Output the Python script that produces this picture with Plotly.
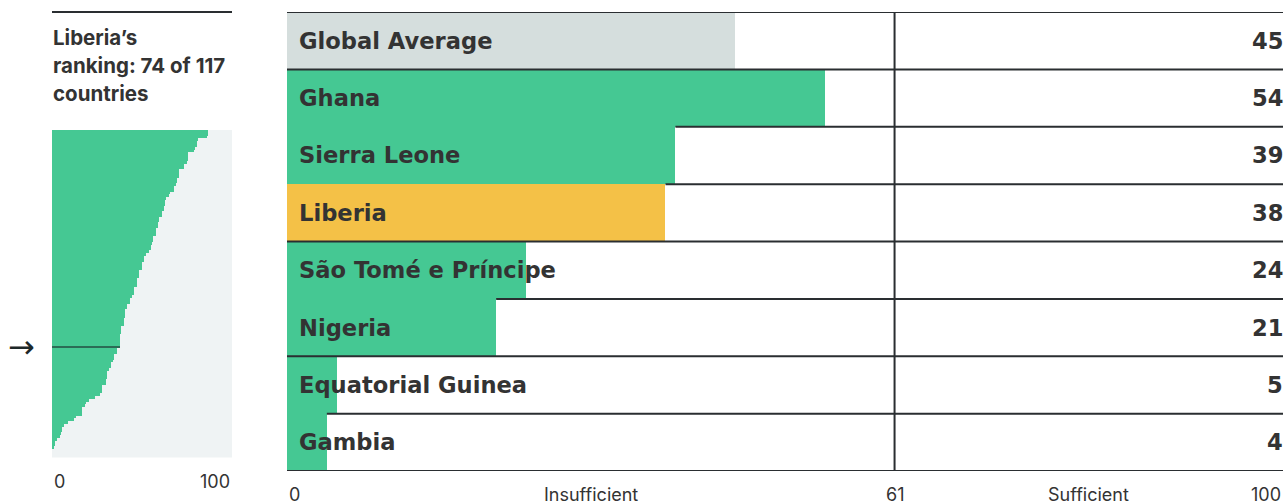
import plotly.graph_objects as go

W, H = 1286, 504

# ---------------- data ----------------
countries = ["Global Average", "Ghana", "Sierra Leone", "Liberia",
             "São Tomé e Príncipe", "Nigeria", "Equatorial Guinea", "Gambia"]
scores = [45, 54, 39, 38, 24, 21, 5, 4]
kinds = ["avg", "peer", "peer", "focus", "peer", "peer", "peer", "peer"]

threshold = 61
axis_labels = ["0", "Insufficient", "61", "Sufficient", "100"]
axis_label_pos = [0, 30.5, 61, 80.5, 100]

title_lines = ["Liberia’s", "ranking: 74 of 117", "countries"]

# sorted scores of all 117 countries
dist_top = [86.5, 86.5, 86, 81, 80.4, 80.4, 79.6, 79, 75.6, 75.6, 75.6, 75,
            73.3, 73.3, 70.6, 70.6, 70.6, 69.6, 69.6, 69, 68, 68, 65.6, 65,
            63.3, 62.8, 62.8, 62, 62, 61, 61, 59.3, 59.3, 58.7, 58.7,
            57.8, 57.8, 57.8]
dist_mid = [56.1, 56.1, 55.6, 55, 55, 53.9, 52.2, 51.1, 51.1, 50, 50, 50,
            48.3, 48.3, 48.3, 47.2, 47.2, 47.2, 45.6, 45.6, 45.6, 44.4,
            43.3, 43.3, 41.7, 41.7, 40.6, 40.6, 40.6, 40, 40, 40,
            38.3, 38.3, 38.3, 38, 38, 38, 38, 38]
dist_low = [36.1, 36.1, 34.4, 34.4, 33.9, 32.8, 32.8, 31.7, 30.6, 30.6, 30.6,
            30, 30, 27.8, 27.8, 27.8, 26.7, 23.9, 20.6, 18.9, 18.3,
            16.7, 16.7, 16.7, 13.3, 12.2, 8.9, 6.7, 5.6, 5.6, 5, 4.4, 2.8,
            1.7, 1.7, 1.1, 0, 0, 0]
dist = dist_top + dist_mid + dist_low
focus_index = len(dist_top) + len(dist_mid) - 1  # Liberia row in the mini chart

# ---------------- style ----------------
GREEN = "#45c893"
GREY = "#d5dedd"
YELLOW = "#f4c147"
DARK_GREEN = "#2b6c56"
PANEL_BG = "#eff3f4"
TEXT = "#333333"
LINE = "#2a2e31"
FONT = "Inter"
LABEL_FONT = "DejaVu Sans"

color_map = {"avg": GREY, "peer": GREEN, "focus": YELLOW}


def px(x):
    return x / W


def py(y):
    return 1 - y / H


fig = go.Figure()

# main bars
fig.add_trace(go.Bar(
    x=scores, y=list(range(len(countries))), orientation="h",
    width=1, marker=dict(color=[color_map[k] for k in kinds], line=dict(width=0)),
    xaxis="x", yaxis="y", hoverinfo="skip", showlegend=False,
))

# mini distribution bars
fig.add_trace(go.Bar(
    x=dist, y=list(range(len(dist))), orientation="h", width=1,
    marker=dict(color=[DARK_GREEN if i == focus_index else GREEN for i in range(len(dist))],
                line=dict(width=0)),
    xaxis="x2", yaxis="y2", hoverinfo="skip", showlegend=False,
))

n = len(countries)
shapes = []
# panel background for the mini chart
shapes.append(dict(type="rect", xref="x2 domain", yref="y2 domain", x0=0, x1=1, y0=0, y1=1,
                   fillcolor=PANEL_BG, line=dict(width=0), layer="below"))
# row separators
covered = {2, 3, 5, 7}
for b in range(n + 1):
    start = scores[b] if b in covered else 0
    shapes.append(dict(type="line", xref="x", yref="y", x0=start, x1=100.4,
                       y0=b - 0.5, y1=b - 0.5, line=dict(color=LINE, width=2), layer="above"))
# threshold line
shapes.append(dict(type="line", xref="x", yref="y", x0=threshold, x1=threshold,
                   y0=-0.5, y1=n - 0.5, line=dict(color=LINE, width=2), layer="above"))
# rule above left title
shapes.append(dict(type="line", xref="x2", yref="paper", x0=0, x1=100,
                   y0=py(12), y1=py(12), line=dict(color=LINE, width=2)))

annotations = []
for i, (c, s) in enumerate(zip(countries, scores)):
    annotations.append(dict(text=f"<b>{c}</b>", xref="paper", yref="y", x=px(297), y=i,
                            xanchor="left", yanchor="middle", showarrow=False,
                            font=dict(family=LABEL_FONT, size=22.6, color=TEXT)))
    annotations.append(dict(text=f"<b>{s}</b>", xref="paper", yref="y", x=px(1285), y=i,
                            xanchor="right", yanchor="middle", showarrow=False,
                            font=dict(family=LABEL_FONT, size=22.6, color=TEXT)))
anchors = ["left", "center", "center", "center", "right"]
for lab, pos, anc in zip(axis_labels, axis_label_pos, anchors):
    annotations.append(dict(text=lab, xref="x", yref="paper", x=pos, y=py(494.5),
                            xanchor=anc, yanchor="middle", showarrow=False,
                            font=dict(family=FONT, size=18, color=TEXT)))
for k, line in enumerate(title_lines):
    annotations.append(dict(text=f"<b>{line}</b>", xref="paper", yref="paper", x=px(51),
                            y=py(38 + k * 27.5), xanchor="left", yanchor="middle",
                            showarrow=False, font=dict(family=FONT, size=20.5, color=TEXT)))
annotations.append(dict(text="0", xref="x2", yref="paper", x=0, y=py(481), xanchor="left",
                        yanchor="middle", showarrow=False,
                        font=dict(family=FONT, size=18, color=TEXT)))
annotations.append(dict(text="100", xref="x2", yref="paper", x=100, y=py(481), xanchor="right",
                        yanchor="middle", showarrow=False,
                        font=dict(family=FONT, size=18, color=TEXT)))
annotations.append(dict(text="→", xref="paper", yref="y2", x=px(21), y=focus_index,
                        xanchor="center", yanchor="middle", showarrow=False,
                        font=dict(family="DejaVu Sans", size=32, color="#1e2828")))

fig.update_layout(
    width=W, height=H, margin=dict(l=0, r=0, t=0, b=0),
    paper_bgcolor="white", plot_bgcolor="white", bargap=0,
    xaxis=dict(domain=[px(287), px(1283)], range=[0, 100], visible=False, fixedrange=True),
    yaxis=dict(domain=[py(471), py(12)], range=[n - 0.5, -0.5], visible=False, fixedrange=True),
    xaxis2=dict(domain=[px(52), px(232)], range=[0, 100], visible=False, anchor="y2"),
    yaxis2=dict(domain=[py(457.5), py(130)], range=[len(dist) - 0.5, -0.5], visible=False,
                anchor="x2"),
    shapes=shapes, annotations=annotations, showlegend=False,
)

fig.write_html(
    "out.html",
    config={"displayModeBar": False},
    post_script="document.body.style.margin='0';document.body.style.overflow='hidden';",
)
